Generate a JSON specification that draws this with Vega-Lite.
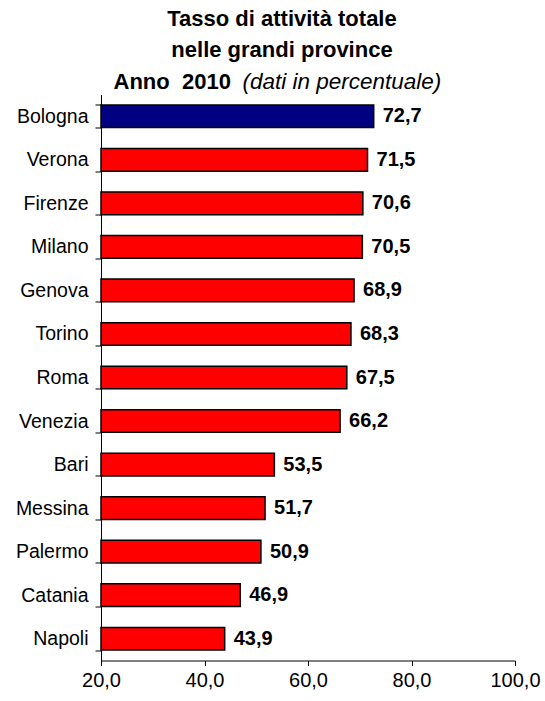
{
  "$schema": "https://vega.github.io/schema/vega-lite/v6.json",
  "width": 414,
  "height": 566,
  "padding": {"left": 15, "top": 7.5, "right": 5, "bottom": 5},
  "background": "white",
  "title": {
    "text": ["Tasso di attività totale", "nelle grandi province"],
    "font": "Liberation Sans",
    "fontSize": 22,
    "fontWeight": "bold",
    "lineHeight": 31.5,
    "color": "#000000",
    "anchor": "middle",
    "dx": -26,
    "offset": 8.5
  },
  "data": {
    "values": [
      {"province": "Bologna", "value": 72.7},
      {"province": "Verona", "value": 71.5},
      {"province": "Firenze", "value": 70.6},
      {"province": "Milano", "value": 70.5},
      {"province": "Genova", "value": 68.9},
      {"province": "Torino", "value": 68.3},
      {"province": "Roma", "value": 67.5},
      {"province": "Venezia", "value": 66.2},
      {"province": "Bari", "value": 53.5},
      {"province": "Messina", "value": 51.7},
      {"province": "Palermo", "value": 50.9},
      {"province": "Catania", "value": 46.9},
      {"province": "Napoli", "value": 43.9}
    ]
  },
  "encoding": {
    "y": {
      "field": "province",
      "type": "nominal",
      "sort": null,
      "scale": {"paddingInner": 0.48, "paddingOuter": 0.24},
      "axis": {
        "title": "Anno\u00a0\u00a02010",
        "titleFont": "Liberation Sans",
        "titleFontSize": 22,
        "titleFontWeight": "bold",
        "titleColor": "#000000",
        "titleAngle": 0,
        "titleX": 12,
        "titleY": -6,
        "titleAlign": "left",
        "titleBaseline": "alphabetic",
        "tickBand": "extent",
        "tickSize": 6,
        "tickColor": "#000000",
        "domainColor": "#000000",
        "labelFont": "Liberation Sans",
        "labelFontSize": 19.5,
        "labelColor": "#000000",
        "labelPadding": 7
      }
    }
  },
  "layer": [
    {
      "mark": {"type": "bar", "stroke": "#000000", "strokeWidth": 1.5},
      "encoding": {
        "x": {
          "field": "value",
          "type": "quantitative",
          "scale": {"domain": [20, 100], "zero": false, "nice": false},
          "axis": {
            "title": null,
            "values": [20, 40, 60, 80, 100],
            "format": ".1f",
            "grid": false,
            "tickSize": 5,
            "tickColor": "#000000",
            "domainColor": "#000000",
            "labelFont": "Liberation Sans",
            "labelFontSize": 20,
            "labelColor": "#000000",
            "labelPadding": 5,
            "labelFlush": false
          }
        },
        "x2": {"datum": 20},
        "color": {
          "condition": {"test": "datum.province === 'Bologna'", "value": "#000080"},
          "value": "#FF0000"
        }
      }
    },
    {
      "mark": {
        "type": "text",
        "align": "left",
        "baseline": "middle",
        "dx": 9,
        "font": "Liberation Sans",
        "fontSize": 20,
        "fontWeight": "bold",
        "color": "#000000"
      },
      "encoding": {
        "x": {
          "field": "value",
          "type": "quantitative",
          "axis": {
            "orient": "top",
            "title": "(dati in percentuale)",
            "labels": false,
            "ticks": false,
            "domain": false,
            "grid": false,
            "titleFont": "Liberation Sans",
            "titleFontSize": 22.5,
            "titleFontStyle": "italic",
            "titleFontWeight": "normal",
            "titleColor": "#000000",
            "titleX": 141,
            "titleY": -6,
            "titleAlign": "left",
            "titleBaseline": "alphabetic"
          }
        },
        "text": {"field": "value", "type": "quantitative", "format": ".1f"}
      }
    }
  ],
  "resolve": {"axis": {"x": "independent"}},
  "config": {
    "view": {"stroke": null},
    "locale": {
      "number": {"decimal": ",", "thousands": ".", "grouping": [3], "currency": ["", " €"]}
    }
  }
}
